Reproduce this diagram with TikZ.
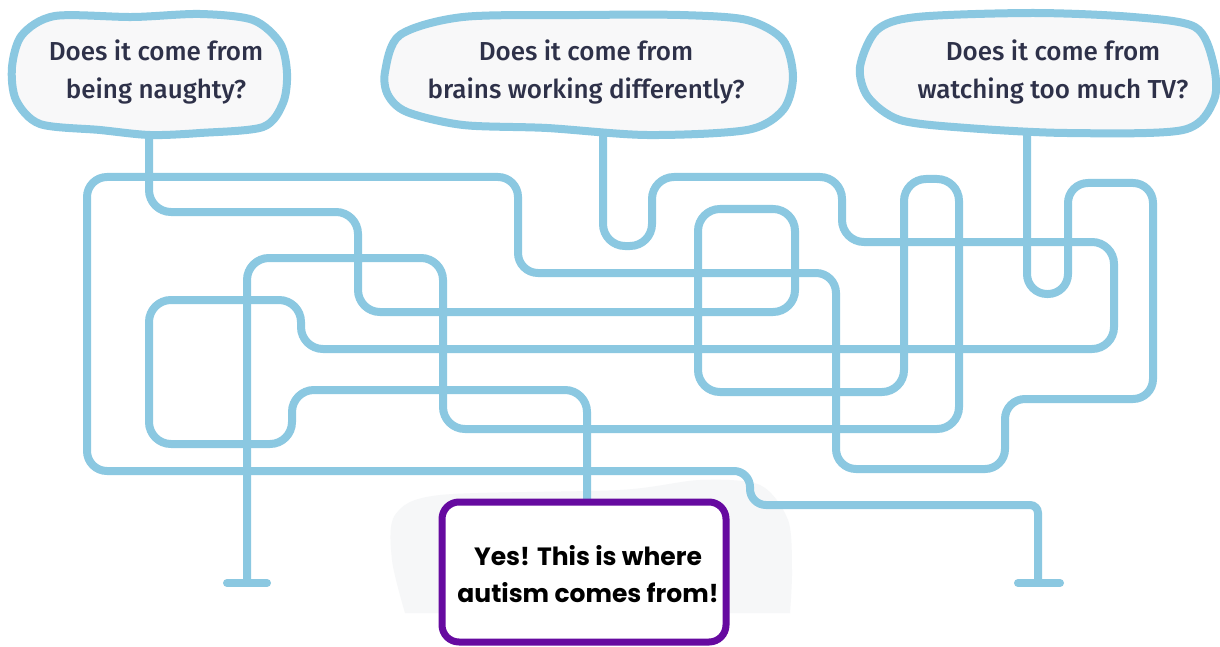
\documentclass[tikz,border=0pt]{standalone}
\usepackage{fontspec}
\newfontfamily\qfont{Fira Sans Medium}
\newfontfamily\afont{Poppins}
\definecolor{maze}{RGB}{139,200,225}
\definecolor{qtext}{RGB}{46,49,73}
\definecolor{ansp}{RGB}{102,10,160}
\definecolor{bubfill}{RGB}{248,248,249}
\definecolor{cloudc}{RGB}{246,247,248}
\begin{document}
\begin{tikzpicture}[x=1pt,y=-1pt,
  mazeline/.style={draw=maze,line width=8pt,rounded corners=22pt},
  tbar/.style={draw=maze,line width=8pt,line cap=round},
  bubble/.style={draw=maze,fill=bubfill,line width=8pt},
  qlabel/.style={text=qtext,font=\qfont\fontsize{26}{38}\selectfont,align=center,inner sep=0pt},
  ansbox/.style={draw=ansp,fill=white,line width=7pt,rounded corners=17pt,minimum width=284pt,minimum height=140pt,inner sep=0pt},
  anslabel/.style={text=black,font=\afont\bfseries\fontsize{25}{37}\selectfont,align=center,inner sep=0pt}]
\useasboundingbox (0,0) rectangle (1220,647);
\fill[white] (0,0) rectangle (1220,647);
% faint cloud behind the answer
\fill[cloudc] plot[smooth] coordinates {(405,613) (392,560) (395,515) (440,495) (620,490) (700,480) (760,485) (788,520) (792,570) (790,613)} -- cycle;

% coordinates
\coordinate (s1) at (149,133);
\coordinate (s2) at (603,133);
\coordinate (s3) at (1027,133);
\coordinate (t1) at (247,583);
\coordinate (t2) at (1038,583);

% path from bubble 1
\draw[mazeline] (s1) -- (149,212) -- (358,212) -- (358,312) -- (795,312) -- (795,209) -- (698,209) -- (698,392) -- (904,392) -- (904,179) -- (959,179) -- (959,429) -- (443,429) -- (443,258) -- (247,258) -- (t1);
% path from bubble 2
\draw[mazeline] (s2) -- (603,246) -- (652,246) -- (652,177) -- (842,177) -- (842,242) -- (1114,242) -- (1114,349) -- (301,349) -- (301,300) -- (149,300) -- (149,444) -- (292,444) -- (292,390) -- (587,390) -- (587,505);
% path from bubble 3
\draw[mazeline,rounded corners=20pt] (s3) -- (1027,294) -- (1068,294) -- (1068,183) -- (1153,183) -- (1153,399) -- (1005,399) -- (1005,469) -- (836,469) -- (836,273) -- (518,273) -- (518,177) -- (87,177) -- (87,471) [rounded corners=16pt] -- (750,471) -- (750,505) [rounded corners=8pt] -- (1038,505) -- (t2);

% T ends
\draw[tbar] (227,583) -- (t1) -- (267,583);
\draw[tbar] (1018,583) -- (t2) -- (1060,583);

% bubbles
\draw[bubble] plot[smooth cycle] coordinates {(12,67) (22,35) (55,16) (133,17) (200,14) (253,20) (280,43) (287,73) (283,103) (263,127) (200,133) (150,135) (100,130) (40,124) (16,100)};
\draw[bubble] plot[smooth cycle] coordinates {(385,72) (400,35) (463,17) (580,15) (680,15) (747,20) (783,40) (793,77) (783,110) (747,130) (647,135) (547,128) (463,125) (407,112) (388,95)};
\draw[bubble] plot[smooth cycle] coordinates {(860,67) (877,30) (917,17) (1033,13) (1133,17) (1195,27) (1213,62) (1214,100) (1183,130) (1067,133) (967,128) (900,120) (868,97)};

\node[qlabel] (q1) at (156,72) {Does it come from\\being naughty?};
\node[qlabel] (q2) at (586,72) {Does it come from\\brains working differently?};
\node[qlabel] (q3) at (1053,72) {Does it come from\\watching too much TV?};

% answer box
\node[ansbox] (ans) at (584,572) {};
\node[anslabel] (anstext) at (588,574) {Yes! This is where\\autism comes from!};
\end{tikzpicture}
\end{document}
